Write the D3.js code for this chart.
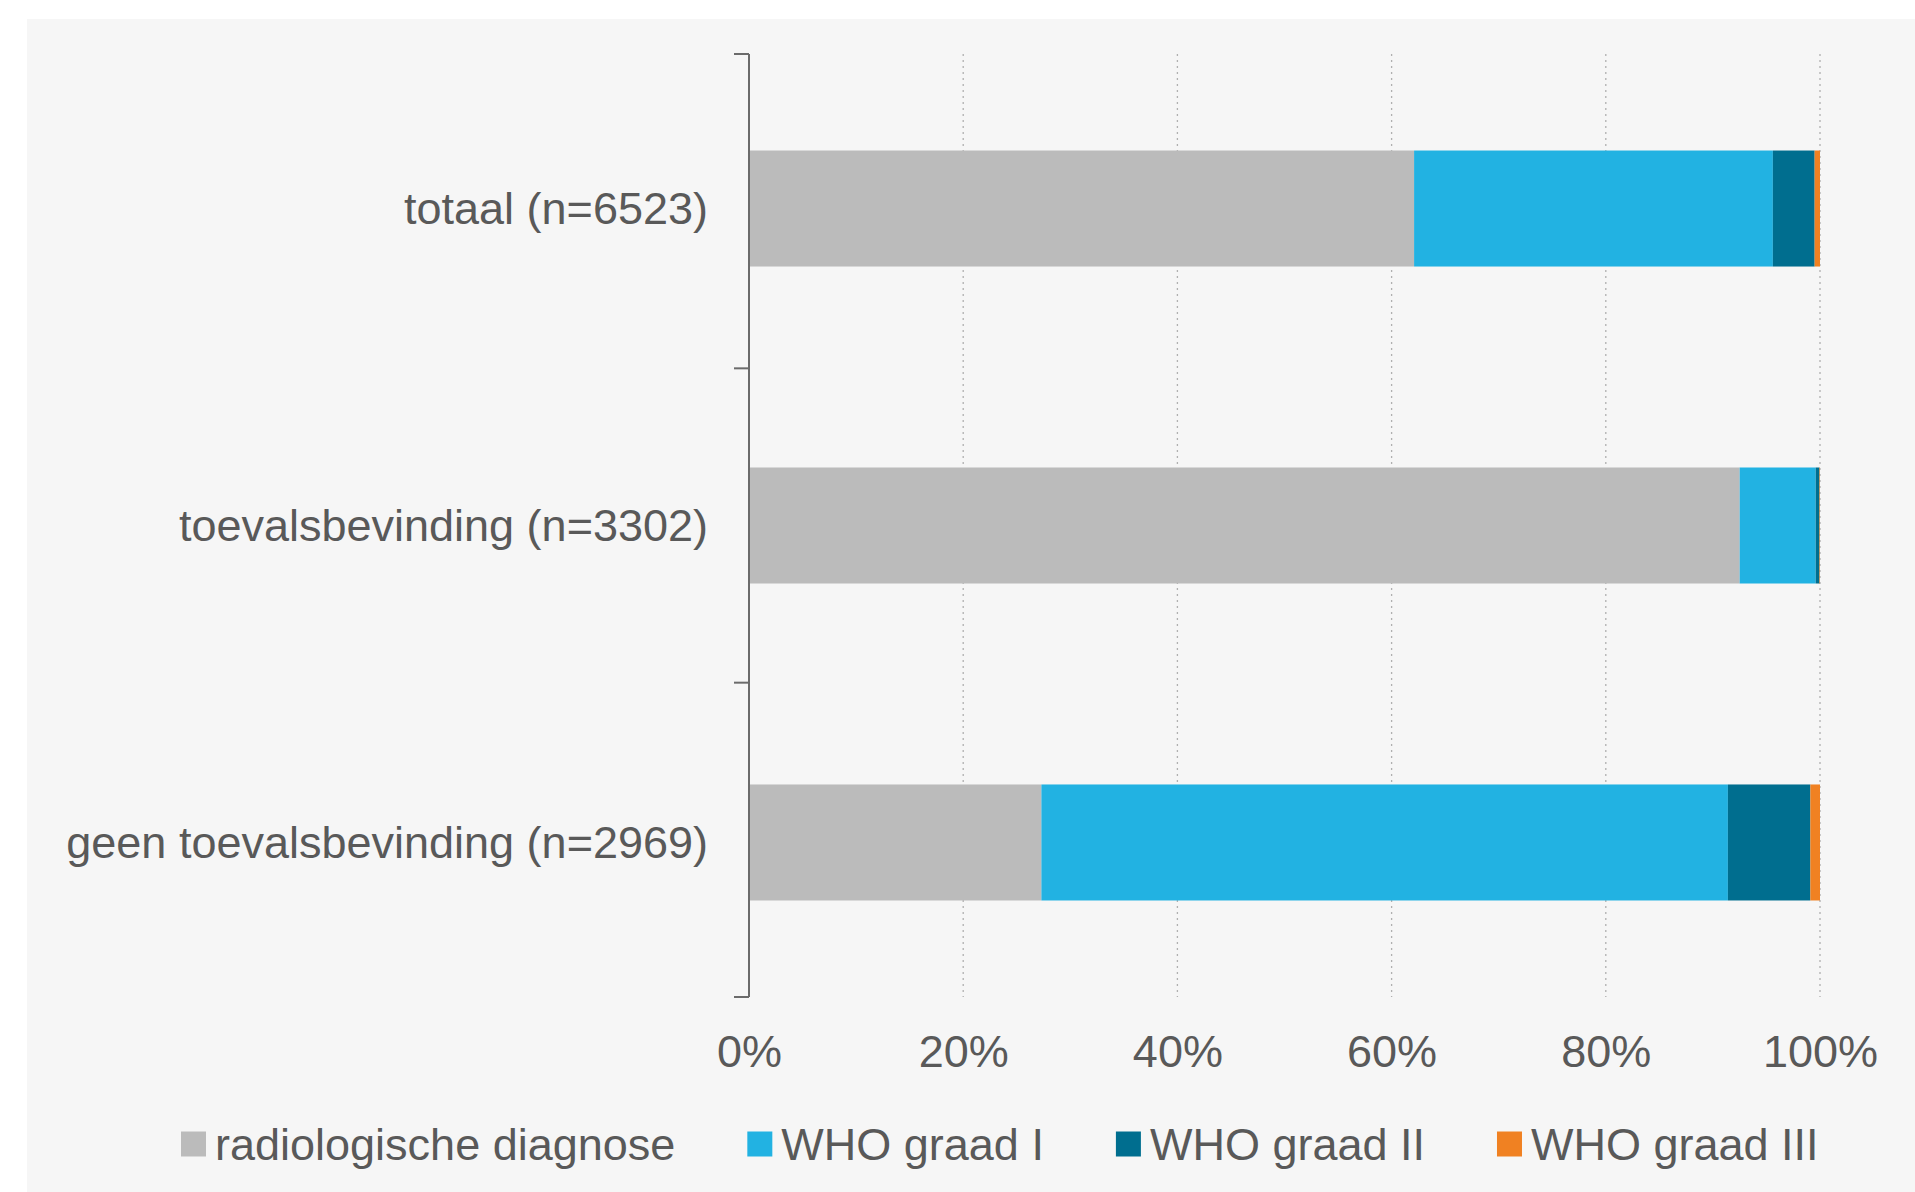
<!DOCTYPE html>
<html>
<head>
<meta charset="utf-8">
<script src="https://cdn.jsdelivr.net/npm/d3@7"></script>
<style>
  html, body { margin: 0; padding: 0; background: #ffffff; }
  svg { display: block; font-family: "Liberation Sans", Arial, sans-serif; }
</style>
</head>
<body>
<svg id="chart" width="1915" height="1192"></svg>
<script>
// categories top to bottom
const categories = ["totaal (n=6523)", "toevalsbevinding (n=3302)", "geen toevalsbevinding (n=2969)"];
const seriesNames = ["radiologische diagnose", "WHO graad I", "WHO graad II", "WHO graad III"];
const colors = ["#bbbbbb", "#22b2e2", "#006e8f", "#f08122"];

// percentages per category
const radiologisch = [62.1, 92.5, 27.3];
const whoI = [33.5, 7.1, 64.1];
const whoII = [3.9, 0.35, 7.7];
const whoIII = [0.5, 0.05, 0.9];
const xTicks = [0, 20, 40, 60, 80, 100];

const svg = d3.select("#chart");
const W = 1915, H = 1192;
const margin = { top: 54, right: 95, bottom: 195, left: 749 };
const width = W - margin.left - margin.right;
const height = H - margin.top - margin.bottom;
const textColor = "#595959";

// background panel
svg.append("rect")
    .attr("x", 27).attr("y", 19)
    .attr("width", W - 27).attr("height", H - 19)
    .attr("fill", "#f6f6f6");

const g = svg.append("g").attr("transform", `translate(${margin.left},${margin.top})`);

const x = d3.scaleLinear().domain([0, 100]).range([0, width]);
const y = d3.scaleBand().domain(categories).range([0, height]).paddingInner(0.634).paddingOuter(0.3045);

// dotted gridlines
g.append("g")
    .selectAll("line")
    .data(xTicks.filter(d => d > 0))
    .enter().append("line")
    .attr("x1", d => x(d)).attr("x2", d => x(d))
    .attr("y1", 0).attr("y2", height)
    .attr("stroke", "#b0b0b0")
    .attr("stroke-width", 1.3)
    .attr("stroke-dasharray", "2,4");

// stack data
const rows = categories.map((c, i) => ({
    cat: c,
    "radiologische diagnose": radiologisch[i],
    "WHO graad I": whoI[i],
    "WHO graad II": whoII[i],
    "WHO graad III": whoIII[i]
}));
const stacked = d3.stack().keys(seriesNames)(rows);

g.selectAll(".serie")
    .data(stacked)
    .enter().append("g")
    .attr("class", "serie")
    .attr("fill", (d, i) => colors[i])
    .selectAll("rect")
    .data(d => d)
    .enter().append("rect")
    .attr("x", d => x(d[0]))
    .attr("y", d => y(d.data.cat))
    .attr("width", d => Math.max(0, x(d[1]) - x(d[0])))
    .attr("height", y.bandwidth());

// category axis with ticks between bands
const yAxisG = g.append("g");
yAxisG.append("line")
    .attr("x1", 0).attr("x2", 0).attr("y1", 0).attr("y2", height)
    .attr("stroke", "#6b6b6b").attr("stroke-width", 2);
const bandStep = height / categories.length;
yAxisG.selectAll(".tk")
    .data(d3.range(categories.length + 1))
    .enter().append("line")
    .attr("x1", -15).attr("x2", 0)
    .attr("y1", d => d * bandStep).attr("y2", d => d * bandStep)
    .attr("stroke", "#6b6b6b").attr("stroke-width", 2);
yAxisG.selectAll("text")
    .data(categories)
    .enter().append("text")
    .attr("x", -41)
    .attr("y", d => y(d) + y.bandwidth() / 2)
    .attr("dy", "0.35em")
    .attr("text-anchor", "end")
    .attr("fill", textColor)
    .style("font-size", "45px")
    .text(d => d);

// x axis labels
const xAxis = d3.axisBottom(x).tickValues(xTicks).tickFormat(d => d + "%").tickSize(0).tickPadding(0);
const xg = g.append("g")
    .attr("transform", `translate(0,${height})`)
    .call(xAxis);
xg.select(".domain").remove();
xg.selectAll("text")
    .attr("y", 70)
    .attr("dy", 0)
    .attr("fill", textColor)
    .style("font-size", "45px")
    .style("font-family", "Liberation Sans, Arial, sans-serif");

// legend
const legend = svg.append("g").attr("transform", "translate(181,1144)");
let lx = 0;
seriesNames.forEach((name, i) => {
    const item = legend.append("g").attr("transform", `translate(${lx},0)`);
    item.append("rect")
        .attr("x", 0).attr("y", -12.5)
        .attr("width", 25).attr("height", 25)
        .attr("fill", colors[i]);
    const t = item.append("text")
        .attr("x", 34)
        .attr("dy", "0.35em")
        .attr("fill", textColor)
        .style("font-size", "45px")
        .text(name);
    lx += 34 + t.node().getComputedTextLength() + 72;
});
</script>
</body>
</html>
